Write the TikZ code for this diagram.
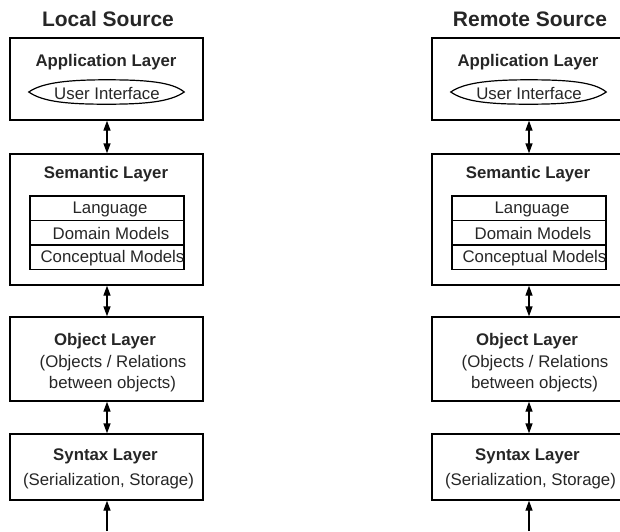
\documentclass[tikz,border=0pt]{standalone}
\usepackage{fontspec}
\setmainfont{Liberation Sans}
\usetikzlibrary{arrows.meta,shapes.geometric,calc}
\tikzset{
  layerbox/.style={draw, line width=1.3pt, rectangle, minimum width=193pt, inner sep=0pt},
  rowbox/.style={draw, line width=1.2pt, rectangle, minimum width=154pt, minimum height=24.5pt, inner sep=0pt},
  uibox/.style={ellipse, minimum width=155pt, minimum height=24pt, inner sep=0pt},
  lens/.style={line width=1.2pt},
  txt/.style={inner sep=0pt, text=black!85, font=\fontsize{16.8}{18}\selectfont},
  bold/.style={inner sep=0pt, text=black!85, font=\fontsize{16.8}{18}\selectfont\bfseries},
  heading/.style={inner sep=0pt, text=black!85, font=\fontsize{21}{24}\selectfont\bfseries},
  link/.style={line width=1.3pt, {Triangle[length=10pt,width=7pt]}-{Triangle[length=10pt,width=7pt]}},
  feed/.style={line width=1.3pt, -{Triangle[length=10pt,width=7pt]}}
}
\begin{document}
\begin{tikzpicture}[x=1pt,y=-1pt]
\useasboundingbox (0,0) rectangle (620,531);
\foreach \s/\dx/\ttl in {L/0/Local Source, R/422/Remote Source}{
  \begin{scope}[xshift=\dx pt]
    \node[heading] (title\s) at (108,19) {\ttl};
    % Application layer
    \node[layerbox, minimum height=82pt] (app\s) at (106.5,79) {};
    \node[bold] (appt\s) at (106,62) {Application Layer};
    \node[uibox] (ui\s) at (106.5,92) {};
    \draw[lens] (ui\s.west)
      .. controls ($(ui\s.west)+(14,-10)$) and ($(ui\s.north)+(-35,0)$) .. (ui\s.north)
      .. controls ($(ui\s.north)+(40,0)$) and ($(ui\s.east)+(-12,-10)$) .. (ui\s.east)
      .. controls ($(ui\s.east)+(-14,10)$) and ($(ui\s.south)+(38,0)$) .. (ui\s.south)
      .. controls ($(ui\s.south)+(-38,0)$) and ($(ui\s.west)+(14,10)$) .. (ui\s.west) -- cycle;
    \node[txt] (uit\s) at (107,93) {User Interface};
    % Semantic layer
    \node[layerbox, minimum height=131pt] (sem\s) at (106.5,219.5) {};
    \node[bold] (semt\s) at (106,174) {Semantic Layer};
    \node[rowbox] (lang\s) at (107,208.25) {};
    \node[rowbox] (dom\s) at (107,232.75) {};
    \node[rowbox] (con\s) at (107,257.25) {};
    \node[txt] (langt\s) at (110,209.5) {Language};
    \node[txt] (domt\s) at (111,233.5) {Domain Models};
    \node[txt] (cont\s) at (112.5,258) {Conceptual Models};
    % Object layer
    \node[layerbox, minimum height=84pt] (obj\s) at (106.5,359) {};
    \node[bold] (objt\s) at (105,341) {Object Layer};
    \node[txt] (objt2\s) at (113,363) {(Objects / Relations};
    \node[txt] (objt3\s) at (112.5,384) {between objects)};
    % Syntax layer
    \node[layerbox, minimum height=66pt] (syn\s) at (106.5,467) {};
    \node[bold] (synt\s) at (105.5,456) {Syntax Layer};
    \node[txt] (synt2\s) at (108.5,481) {(Serialization, Storage)};
    % connectors
    \draw[link] ([xshift=0.5pt]app\s.south) -- ([xshift=0.5pt]sem\s.north);
    \draw[link] ([xshift=0.5pt]sem\s.south) -- ([xshift=0.5pt]obj\s.north);
    \draw[link] ([xshift=0.5pt]obj\s.south) -- ([xshift=0.5pt]syn\s.north);
    \coordinate (in\s) at (107,531);
    \draw[feed] (in\s) -- ([xshift=0.5pt]syn\s.south);
  \end{scope}
}
\end{tikzpicture}
\end{document}
